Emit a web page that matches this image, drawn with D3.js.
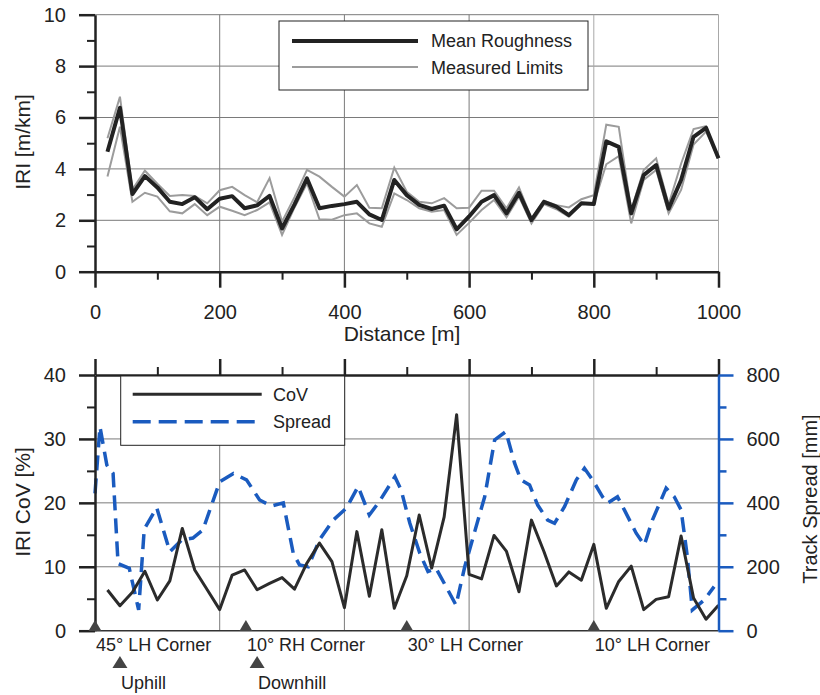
<!DOCTYPE html>
<html><head><meta charset="utf-8">
<script src="https://cdn.jsdelivr.net/npm/d3@7"></script>
<style>
body{margin:0;background:#fff}
svg{display:block}
text{font-family:"Liberation Sans",Arial,sans-serif;fill:#222}
</style>
</head><body>
<svg id="c" width="820" height="695"></svg>
<script>
// ---------- data ----------
const distance = [20,40,60,80,100,120,140,160,180,200,220,240,260,280,300,320,340,360,380,400,
  420,440,460,480,500,520,540,560,580,600,620,640,660,680,700,720,740,760,780,800,
  820,840,860,880,900,920,940,960,980,1000];
const meanRoughness = [4.67,6.38,3.02,3.72,3.28,2.72,2.63,2.9,2.43,2.84,2.94,2.47,2.58,2.95,1.68,2.62,3.63,2.47,2.56,2.63,
  2.72,2.23,2.01,3.57,2.98,2.6,2.44,2.57,1.65,2.15,2.72,2.98,2.27,3.07,2.01,2.72,2.53,2.2,2.66,2.63,
  5.07,4.86,2.27,3.76,4.15,2.45,3.57,5.25,5.6,4.41];
const upperLimit = [5.19,6.81,3.2,3.93,3.42,2.95,2.98,2.95,2.66,3.17,3.3,2.98,2.7,3.64,1.95,2.9,3.96,3.7,3.3,2.92,
  3.37,2.49,2.47,4.05,3.11,2.72,2.66,2.86,2.47,2.49,3.15,3.15,2.47,3.28,2.08,2.76,2.59,2.5,2.82,2.98,
  5.72,5.64,2.4,3.96,4.41,2.62,4.2,5.55,5.66,4.41];
const lowerLimit = [3.7,5.64,2.72,3.07,2.92,2.35,2.27,2.63,2.2,2.53,2.37,2.2,2.4,2.7,1.43,2.5,3.44,2.04,2.02,2.2,
  2.27,1.88,1.75,3.05,2.79,2.47,2.33,2.4,1.43,1.9,2.4,2.79,2.12,2.92,1.88,2.63,2.43,2.14,2.63,2.63,
  4.18,4.5,1.88,3.57,3.96,2.27,3.18,4.95,5.45,4.41];

const cov = [6.37,3.9,6.0,9.3,4.8,7.8,16.0,9.5,6.4,3.3,8.7,9.5,6.4,7.4,8.3,6.5,10.6,13.7,10.8,3.6,
  15.5,5.4,15.8,3.5,8.6,18.1,9.8,17.8,33.8,8.8,8.1,14.9,12.4,6.1,17.3,12.4,7.0,9.2,7.9,13.5,
  3.5,7.7,10.1,3.3,4.9,5.3,14.8,5.1,1.8,4.0];

const spreadDist = [0,8,19,29,37,55,70,79,99,120,139,157,173,200,222,243,264,283,302,318,328,342,360,382,403,422,440,456,481,491,
  505,521,534,547,563,579,593,609,625,641,659,673,683,697,710,726,737,753,772,785,798,814,822,838,849,868,881,894,916,929,
  940,950,958,977,993];
const spreadVal = [430,638,518,492,210,195,65,318,385,247,284,290,315,466,492,472,409,390,400,242,206,200,284,346,383,451,362,404,482,440,
  336,242,185,195,138,80,200,310,419,597,623,524,472,456,393,346,336,388,472,508,472,419,399,419,378,305,268,346,446,419,
  378,232,65,96,138];

const xMajor = [0,200,400,600,800,1000];
const xMinor = [100,300,500,700,900];
const iriMajor = [0,2,4,6,8,10];
const iriMinor = [1,3,5,7,9];
const covMajor = [0,10,20,30,40];
const covMinor = [5,15,25,35];
const spreadMajor = [0,200,400,600,800];
const spreadMinor = [100,300,500,700];

const cornerDist = [0,242,500,800];
const cornerLabels = ["45° LH Corner","10° RH Corner","30° LH Corner","10° LH Corner"];
const slopeDist = [40,260];
const slopeLabels = ["Uphill","Downhill"];

// ---------- drawing ----------
const svg = d3.select("#c");
const FONT = '"Liberation Sans",Arial,sans-serif';
const GRID = "#7a7a7a";
const BLUE = "#1a5bbf";
const fmt = d3.format("d");

function styleAxis(g, color, w, fs){
  g.attr("font-family", FONT).attr("font-size", fs||20);
  g.select(".domain").attr("stroke", color).attr("stroke-width", w);
  g.selectAll(".tick line").attr("stroke", color).attr("stroke-width", w);
  g.selectAll(".tick text").attr("fill", "#222");
}

// ===== Top chart =====
const x1 = d3.scaleLinear().domain([0,1000]).range([95,718.5]);
const y1 = d3.scaleLinear().domain([0,10]).range([271.7,14.7]);

const grid1 = svg.append("g");
grid1.selectAll("line.h").data([2,4,6,8,10]).join("line")
  .attr("x1", x1(0)).attr("x2", x1(1000)).attr("y1", d=>y1(d)).attr("y2", d=>y1(d))
  .attr("stroke", GRID).attr("stroke-width", 1);
grid1.selectAll("line.v").data([200,400,600,800,1000]).join("line")
  .attr("y1", y1(0)).attr("y2", y1(10)).attr("x1", d=>x1(d)).attr("x2", d=>x1(d))
  .attr("stroke", d=> d===800||d===1000 ? "#a8a8a8" : GRID).attr("stroke-width", 1);

const line1 = (vals) => d3.line().x((d,i)=>x1(distance[i])).y(d=>y1(d))(vals);
svg.append("path").attr("d", line1(upperLimit)).attr("fill","none").attr("stroke","#9c9c9c").attr("stroke-width",2);
svg.append("path").attr("d", line1(lowerLimit)).attr("fill","none").attr("stroke","#9c9c9c").attr("stroke-width",2);
svg.append("path").attr("d", line1(meanRoughness)).attr("fill","none").attr("stroke","#222").attr("stroke-width",4)
  .attr("stroke-linejoin","round");

// axes
svg.append("g").attr("transform","translate(95,0)")
  .call(d3.axisLeft(y1).tickValues(iriMinor).tickSize(8).tickFormat("")).call(g=>{styleAxis(g,"#222",2);g.select(".domain").remove();});
svg.append("g").attr("transform","translate(95,0)")
  .call(d3.axisLeft(y1).tickValues(iriMajor).tickSize(16).tickSizeOuter(0).tickPadding(13).tickFormat(fmt)).call(g=>styleAxis(g,"#222",2.5));
svg.append("g").attr("transform",`translate(0,${y1(0)})`)
  .call(d3.axisBottom(x1).tickValues(xMinor).tickSize(8).tickFormat("")).call(g=>{styleAxis(g,"#222",2);g.select(".domain").remove();});
svg.append("g").attr("transform",`translate(0,${y1(0)})`)
  .call(d3.axisBottom(x1).tickValues(xMajor).tickSize(16).tickSizeOuter(0).tickPadding(17).tickFormat(fmt)).call(g=>styleAxis(g,"#222",2.5));

// legend top
const lg1 = svg.append("g");
lg1.append("rect").attr("x",279).attr("y",21).attr("width",309).attr("height",69)
  .attr("fill","#fff").attr("stroke","#222").attr("stroke-width",1);
lg1.append("line").attr("x1",292).attr("x2",418).attr("y1",41).attr("y2",41).attr("stroke","#222").attr("stroke-width",4);
lg1.append("line").attr("x1",292).attr("x2",418).attr("y1",67).attr("y2",67).attr("stroke","#9c9c9c").attr("stroke-width",2);
lg1.append("text").attr("x",431).attr("y",41).attr("dominant-baseline","central").attr("font-size",18).text("Mean Roughness");
lg1.append("text").attr("x",431).attr("y",68).attr("dominant-baseline","central").attr("font-size",18).text("Measured Limits");

// titles
svg.append("text").attr("transform","translate(22,142) rotate(-90)").attr("text-anchor","middle")
  .attr("dominant-baseline","central").attr("font-size",21).text("IRI [m/km]");
svg.append("text").attr("x",402).attr("y",341).attr("text-anchor","middle").attr("font-size",21).text("Distance [m]");

// ===== Bottom chart =====
const x2 = d3.scaleLinear().domain([0,1000]).range([95,718.5]);
const yC = d3.scaleLinear().domain([0,40]).range([630.7,375]);
const yS = d3.scaleLinear().domain([0,800]).range([630.7,375]);

const grid2 = svg.append("g");
grid2.selectAll("line.h").data([10,20,30]).join("line")
  .attr("x1", x2(0)).attr("x2", x2(1000)).attr("y1", d=>yC(d)).attr("y2", d=>yC(d))
  .attr("stroke", GRID).attr("stroke-width", 1);
grid2.selectAll("line.v").data([200,400,600,800]).join("line")
  .attr("y1", yC(0)).attr("y2", yC(40)).attr("x1", d=>x2(d)).attr("x2", d=>x2(d))
  .attr("stroke", d=> d===800 ? "#a8a8a8" : GRID).attr("stroke-width", 1);
svg.append("line").attr("x1",x2(0)).attr("x2",x2(1000)).attr("y1",yC(0)).attr("y2",yC(0))
  .attr("stroke","#333").attr("stroke-width",1.5);

svg.append("path")
  .attr("d", d3.line().x((d,i)=>x2(spreadDist[i])).y(d=>yS(d))(spreadVal))
  .attr("fill","none").attr("stroke",BLUE).attr("stroke-width",3.5).attr("stroke-dasharray","15,8");
svg.append("path")
  .attr("d", d3.line().x((d,i)=>x2(distance[i])).y(d=>yC(d))(cov))
  .attr("fill","none").attr("stroke","#2b2b2b").attr("stroke-width",3).attr("stroke-linejoin","round");

// axes
svg.append("g").attr("transform",`translate(0,${yC(40)})`)
  .call(d3.axisTop(x2).tickValues(xMinor).tickSize(8).tickFormat("")).call(g=>{styleAxis(g,"#222",2);g.select(".domain").remove();});
svg.append("g").attr("transform",`translate(0,${yC(40)})`)
  .call(d3.axisTop(x2).tickValues(xMajor).tickSize(16).tickSizeOuter(0).tickFormat("")).call(g=>styleAxis(g,"#222",2.5));
svg.append("g").attr("transform","translate(95,0)")
  .call(d3.axisLeft(yC).tickValues(covMinor).tickSize(8).tickFormat("")).call(g=>{styleAxis(g,"#222",2);g.select(".domain").remove();});
svg.append("g").attr("transform","translate(95,0)")
  .call(d3.axisLeft(yC).tickValues(covMajor).tickSize(16).tickSizeOuter(0).tickPadding(13).tickFormat(fmt)).call(g=>styleAxis(g,"#222",2.5));
svg.append("g").attr("transform",`translate(${x2(1000)},0)`)
  .call(d3.axisRight(yS).tickValues(spreadMinor).tickSize(8).tickFormat("")).call(g=>{styleAxis(g,BLUE,2.5);g.select(".domain").remove();});
svg.append("g").attr("transform",`translate(${x2(1000)},0)`)
  .call(d3.axisRight(yS).tickValues(spreadMajor).tickSize(15).tickSizeOuter(0).tickPadding(13).tickFormat(fmt)).call(g=>styleAxis(g,BLUE,2.5));

// legend bottom
const lg2 = svg.append("g");
lg2.append("rect").attr("x",120.7).attr("y",376).attr("width",224).attr("height",69.3)
  .attr("fill","#fff").attr("stroke","#222").attr("stroke-width",1);
lg2.append("line").attr("x1",132.7).attr("x2",261.7).attr("y1",394.3).attr("y2",394.3).attr("stroke","#2b2b2b").attr("stroke-width",3);
lg2.append("line").attr("x1",132.7).attr("x2",261.7).attr("y1",421.7).attr("y2",421.7).attr("stroke",BLUE).attr("stroke-width",3.5).attr("stroke-dasharray","18,8");
lg2.append("text").attr("x",273).attr("y",395).attr("dominant-baseline","central").attr("font-size",18).text("CoV");
lg2.append("text").attr("x",273).attr("y",422).attr("dominant-baseline","central").attr("font-size",18).text("Spread");

// titles
svg.append("text").attr("transform","translate(22,502) rotate(-90)").attr("text-anchor","middle")
  .attr("dominant-baseline","central").attr("font-size",21).text("IRI CoV [%]");
svg.append("text").attr("transform","translate(810,499) rotate(-90)").attr("text-anchor","middle")
  .attr("dominant-baseline","central").attr("font-size",20).text("Track Spread [mm]");

// markers
const tri = (x, base, h, w) => `M${x-w/2},${base}L${x},${base-h}L${x+w/2},${base}Z`;
svg.selectAll("path.corner").data(cornerDist).join("path")
  .attr("d", d=>tri(x2(d), 631, 11, 13)).attr("fill","#444");
svg.selectAll("text.corner").data(cornerDist).join("text")
  .attr("x", d=>x2(d)+1).attr("y", 651).attr("font-size",18).text((d,i)=>cornerLabels[i]);
svg.selectAll("path.slope").data(slopeDist).join("path")
  .attr("d", d=>tri(x2(d), 668, 12, 15)).attr("fill","#444");
svg.selectAll("text.slope").data(slopeDist).join("text")
  .attr("x", d=>x2(d)+1).attr("y", 689).attr("font-size",18).text((d,i)=>slopeLabels[i]);
</script>
</body></html>
